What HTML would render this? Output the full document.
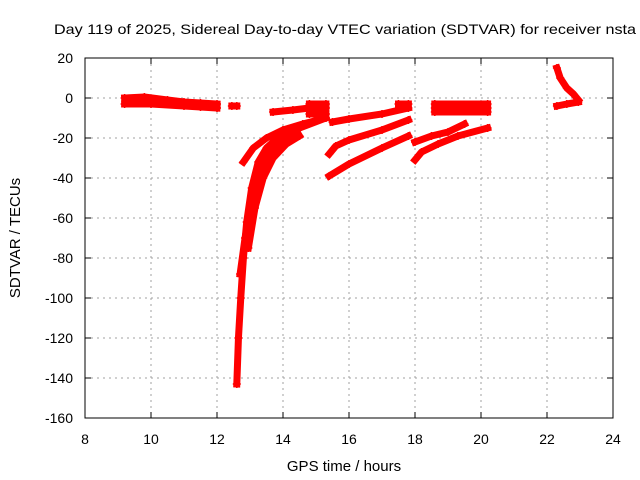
<!DOCTYPE html>
<html><head><meta charset="utf-8"><style>
body{margin:0;background:#fff;}
svg{display:block;font-family:"Liberation Sans",sans-serif;}
</style></head><body>
<svg id="chart" width="640" height="480">
<text x="345" y="34" font-size="14" text-anchor="middle" textLength="582" lengthAdjust="spacingAndGlyphs">Day 119 of 2025, Sidereal Day-to-day VTEC variation (SDTVAR) for receiver nsta</text>
<text x="344" y="471" font-size="15" text-anchor="middle">GPS time / hours</text>
<text transform="translate(20,238) rotate(-90)" font-size="15" text-anchor="middle">SDTVAR / TECUs</text>
<g id="grid"></g><g id="marks"></g>
<rect x="85" y="58" width="528" height="360" fill="none" stroke="#000" stroke-width="1"/>
</svg>
<script>
const xTicks=[8,10,12,14,16,18,20,22,24];
const yTicks=[20,0,-20,-40,-60,-80,-100,-120,-140,-160];
const sFlatTop=[[9.2,0],[9.8,0.5],[10.5,-1],[11,-2],[11.5,-2.5],[12,-3]];
const sFlatBot=[[9.2,-3],[10,-3],[11,-4],[11.5,-4.5],[12,-5]];
const sBlob=[[12.45,-4],[12.6,-4]];
const sSteep1=[[12.6,-143],[12.65,-120],[12.72,-100],[12.8,-80],[12.9,-62],[13.05,-45],[13.25,-32],[13.5,-25],[13.9,-19],[14.5,-15],[15.3,-10]];
const sSteep1b=[[12.8,-32],[13.1,-25],[13.5,-20],[14,-16],[14.6,-13],[15.3,-10]];
const sSteep2=[[12.7,-88],[12.85,-70],[13.05,-52],[13.3,-36],[13.6,-27],[14,-21],[14.5,-15]];
const sSteep3=[[12.95,-75],[13.15,-55],[13.4,-40],[13.7,-30],[14.1,-23],[14.5,-19]];
const sMid1=[[13.7,-7],[14.3,-6],[14.8,-5],[15.3,-5]];
const sMid1b=[[14.8,-3],[15.3,-3]];
const sMid1c=[[14.8,-8],[15.3,-8]];
const sA1=[[15.5,-12],[16,-10.5],[17,-8],[17.8,-5]];
const sA1b=[[17.5,-3],[17.8,-3]];
const sA2=[[15.4,-28],[15.6,-24],[16,-21],[17,-16],[17.8,-11]];
const sA3=[[15.4,-39],[16,-33],[17,-25],[17.8,-19]];
const sB1=[[18.6,-3],[20.2,-3]];
const sB2=[[18.6,-7],[20.2,-7]];
const sB2m=[[18.6,-5],[20.2,-5]];
const sB3=[[18.0,-22],[18.5,-19],[19,-17],[19.5,-13]];
const sB4=[[18.0,-31],[18.2,-27],[18.7,-23],[19.3,-19],[20.2,-15]];
const sC1=[[22.3,15],[22.4,10],[22.6,5],[22.8,2],[22.95,-1]];
const sC2=[[22.3,-4],[22.6,-3],[22.95,-2]];
const series=[sFlatTop,sFlatBot,sBlob,sSteep1,sSteep1b,sSteep2,sSteep3,sMid1,sMid1b,sMid1c,sA1,sA1b,sA2,sA3,sB1,sB2,sB2m,sB3,sB4,sC1,sC2];
const X=h=>85+(h-8)*33, Y=v=>58+(20-v)*2;
const NS='http://www.w3.org/2000/svg';
const grid=document.getElementById('grid'), marks=document.getElementById('marks');
function mk(t,a,p){const e=document.createElementNS(NS,t);for(const k in a)e.setAttribute(k,a[k]);p.appendChild(e);return e;}
xTicks.forEach(t=>{
 if(t>8&&t<24){const l=mk('line',{x1:X(t),x2:X(t),y1:58,y2:418,stroke:'#a0a0a0','stroke-dasharray':'2,4'},grid);
 
 }
 mk('line',{x1:X(t),x2:X(t),y1:418,y2:412,stroke:'#000'},grid);
 mk('line',{x1:X(t),x2:X(t),y1:58,y2:64,stroke:'#000'},grid);
 const tx=mk('text',{x:X(t),y:444,'font-size':14,'text-anchor':'middle'},grid);tx.textContent=t;
 
 
});
yTicks.forEach(t=>{
 if(t<20&&t>-160){const l=mk('line',{x1:85,x2:613,y1:Y(t),y2:Y(t),stroke:'#a0a0a0','stroke-dasharray':'2,4'},grid);
 
 }
 mk('line',{x1:85,x2:91,y1:Y(t),y2:Y(t),stroke:'#000'},grid);
 mk('line',{x1:613,x2:607,y1:Y(t),y2:Y(t),stroke:'#000'},grid);
 const tx=mk('text',{x:73,y:Y(t)+5,'font-size':14,'text-anchor':'end'},grid);tx.textContent=t;
 
 
});
series.forEach(s=>{
 const pl=mk('polyline',{points:s.map(p=>X(p[0])+','+Y(p[1])).join(' '),fill:'none',stroke:'#f00','stroke-width':7,'stroke-linejoin':'round','stroke-linecap':'square'},marks);
 
 
 s.forEach(p=>{
  const g=mk('path',{d:`M${X(p[0])-4},${Y(p[1])}h8M${X(p[0])},${Y(p[1])-4}v8`,stroke:'#f00','stroke-width':1.5},marks);
  
  
 });
});
</script>
</body></html>
